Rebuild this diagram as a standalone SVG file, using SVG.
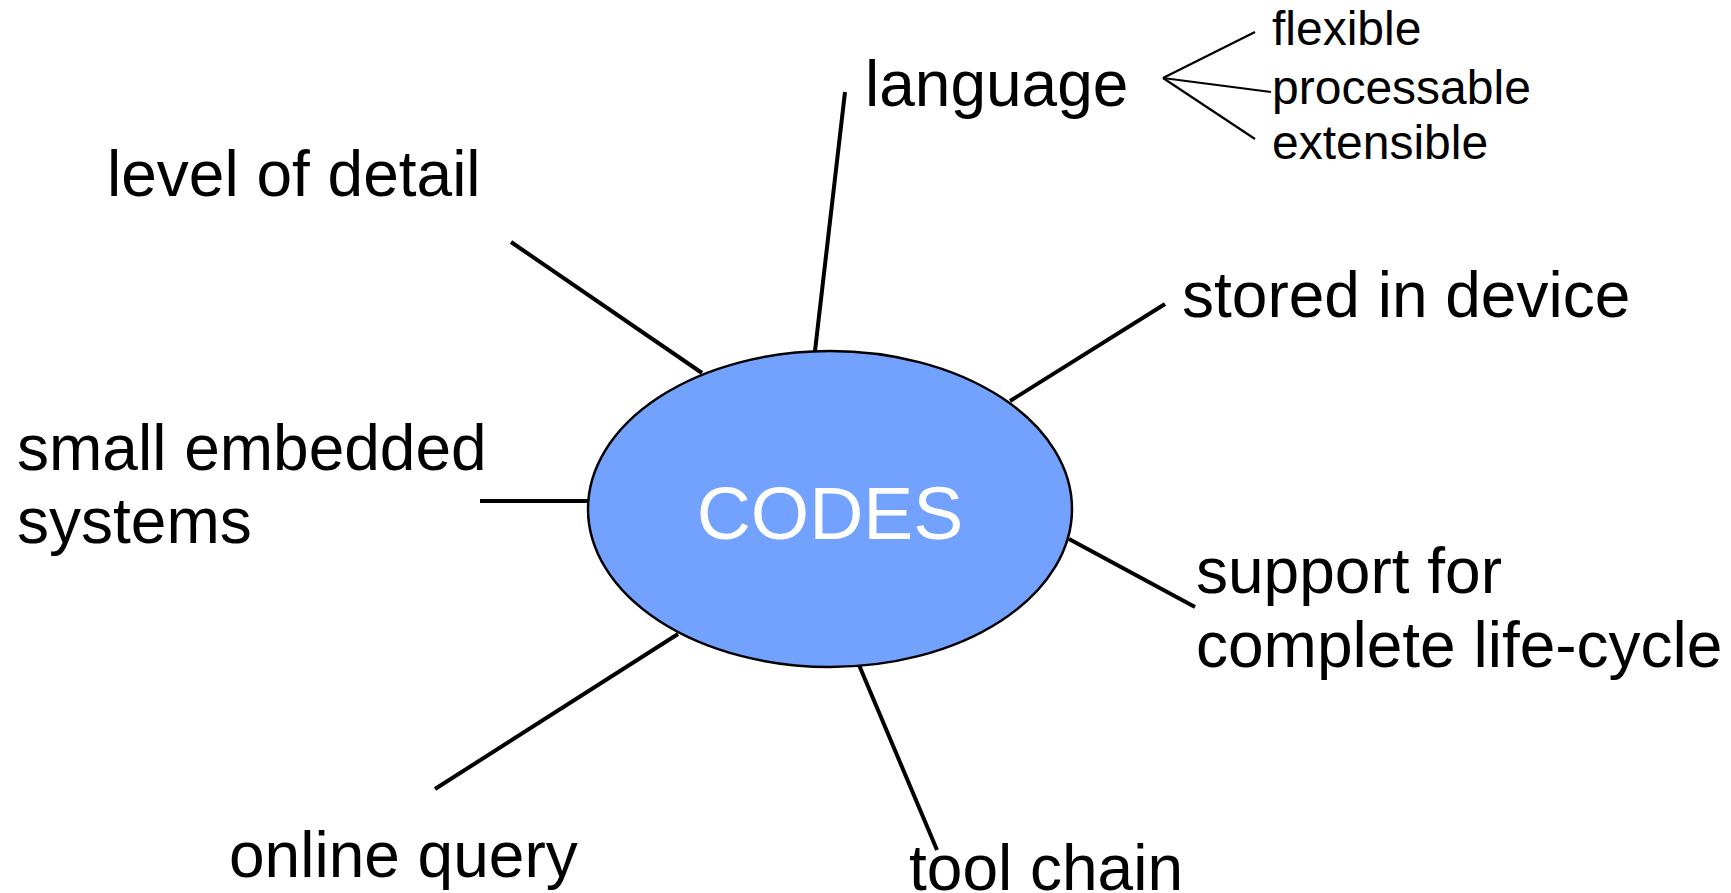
<svg xmlns="http://www.w3.org/2000/svg" width="1731" height="893" viewBox="0 0 1731 893">
<style>
.lbl{font-family:"Liberation Sans",Arial,sans-serif;font-size:64px;fill:#000}
.sub{font-family:"Liberation Sans",Arial,sans-serif;font-size:48px;fill:#000}
.ln{stroke:#000;stroke-width:4;fill:none;stroke-linecap:butt}
.sl{stroke:#000;stroke-width:2.2;fill:none}
</style>
<rect width="1731" height="893" fill="#fff"/>
<g id="connectors">
<line class="ln" x1="845" y1="92" x2="815" y2="351"/>
<line class="ln" x1="511" y1="242" x2="702" y2="373"/>
<line class="ln" x1="1165" y1="304" x2="1010" y2="401"/>
<line class="ln" x1="480" y1="501" x2="588" y2="501"/>
<line class="ln" x1="1069" y1="539" x2="1195" y2="607"/>
<line class="ln" x1="678" y1="634" x2="435" y2="789"/>
<line class="ln" x1="859" y1="665" x2="937" y2="850"/>
<line class="sl" x1="1163" y1="78" x2="1255" y2="32"/>
<line class="sl" x1="1163" y1="78" x2="1271" y2="92"/>
<line class="sl" x1="1163" y1="78" x2="1255" y2="139"/>
</g>
<g id="codes">
<ellipse cx="830" cy="509" rx="242" ry="158" fill="#73A2FE" stroke="#000" stroke-width="2.5"/>
<text x="830" y="539" text-anchor="middle" font-family="Liberation Sans, Arial, sans-serif" font-size="75" fill="#fff">CODES</text>
</g>
<g id="language"><text class="lbl" x="865" y="106">language</text></g>
<g id="level-of-detail"><text class="lbl" x="107" y="196">level of detail</text></g>
<g id="stored-in-device"><text class="lbl" x="1182" y="317">stored in device</text></g>
<g id="small-embedded"><text class="lbl" x="17" y="470">small embedded</text><text class="lbl" x="17" y="543">systems</text></g>
<g id="support"><text class="lbl" x="1196" y="593">support for</text><text class="lbl" x="1196" y="667">complete life-cycle</text></g>
<g id="online-query"><text class="lbl" x="229" y="877">online query</text></g>
<g id="tool-chain"><text class="lbl" x="909" y="890">tool chain</text></g>
<g id="flexible"><text class="sub" x="1272" y="45">flexible</text></g>
<g id="processable"><text class="sub" x="1272" y="104">processable</text></g>
<g id="extensible"><text class="sub" x="1272" y="159">extensible</text></g>
</svg>
